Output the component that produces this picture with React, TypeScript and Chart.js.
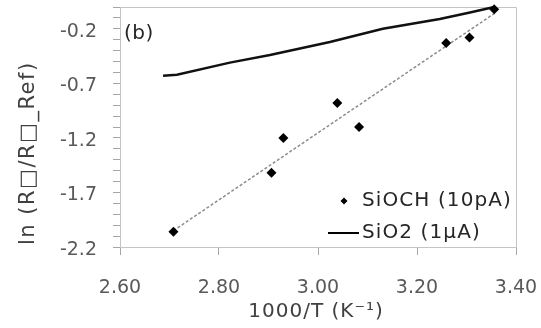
import React, { useEffect, useRef } from 'react';
import { Chart, registerables } from 'chart.js';

Chart.register(...registerables);

// SiOCH (10pA) measured points
const siochX = [2.708, 2.906, 2.930, 3.039, 3.083, 3.259, 3.306, 3.356];
const siochY = [-2.06, -1.52, -1.20, -0.88, -1.10, -0.33, -0.28, -0.02];
// SiOCH linear trendline (endpoints)
const trendX = [2.708, 3.356];
const trendY = [-2.05, -0.06];
// SiO2 (1uA) line
const sio2X = [2.687, 2.715, 2.822, 2.903, 3.024, 3.131, 3.246, 3.307, 3.356];
const sio2Y = [-0.63, -0.62, -0.51, -0.44, -0.32, -0.20, -0.11, -0.05, 0.0];

const xTickLabels = ['2.60', '2.80', '3.00', '3.20', '3.40'];
const yTickLabels = ['-2.2', '-1.7', '-1.2', '-0.7', '-0.2'];
const seriesLabels = ['SiOCH (10pA)', 'SiO2 (1\u03bcA)'];
const panelLabel = '(b)';
const xTitle = '1000/T (K\u207b\u00b9)';
const yTitle = 'ln (R\u25a1/R\u25a1_Ref)';

const FONT = "'DejaVu Sans', sans-serif";

export default function App() {
  const ref = useRef<HTMLCanvasElement>(null);

  useEffect(() => {
    document.body.style.margin = '0';
    const toPts = (xs: number[], ys: number[]) => xs.map((x, i) => ({ x, y: ys[i] }));

    const framePlugin = {
      id: 'frame',
      beforeDatasetsDraw(chart: any) {
        const { ctx, chartArea: a } = chart;
        ctx.save();
        ctx.strokeStyle = '#c4c4c4';
        ctx.lineWidth = 1;
        ctx.beginPath();
        ctx.moveTo(a.left, Math.round(a.top) + 0.5);
        ctx.lineTo(Math.round(a.right) + 0.5, Math.round(a.top) + 0.5);
        ctx.lineTo(Math.round(a.right) + 0.5, a.bottom);
        ctx.stroke();
        ctx.restore();
      },
      afterDraw(chart: any) {
        const { ctx, chartArea: a } = chart;
        ctx.save();
        ctx.fillStyle = '#262626';
        ctx.textBaseline = 'middle';
        ctx.textAlign = 'left';
        ctx.font = `20px ${FONT}`;
        ctx.letterSpacing = '0.5px';
        ctx.fillText(panelLabel, a.left + 4, a.top + 27);

        // legend
        const tx = a.right - 154;
        const y1 = a.bottom - 46;
        const y2 = a.bottom - 14;
        ctx.fillStyle = '#000';
        ctx.beginPath();
        const mx = tx - 18;
        ctx.moveTo(mx - 3.5, y1);
        ctx.lineTo(mx, y1 - 3.5);
        ctx.lineTo(mx + 3.5, y1);
        ctx.lineTo(mx, y1 + 3.5);
        ctx.closePath();
        ctx.fill();
        ctx.strokeStyle = '#000';
        ctx.lineWidth = 2;
        ctx.beginPath();
        ctx.moveTo(tx - 34, y2);
        ctx.lineTo(tx - 3, y2);
        ctx.stroke();
        ctx.fillStyle = '#262626';
        ctx.letterSpacing = '1.1px';
        ctx.fillText(seriesLabels[0], tx, y1);
        ctx.fillText(seriesLabels[1], tx, y2);

        // axis titles
        ctx.fillStyle = '#404040';
        ctx.font = `20px ${FONT}`;
        ctx.letterSpacing = '1px';
        ctx.textAlign = 'center';
        ctx.fillText(xTitle, (a.left + a.right) / 2 - 2, 312);

        ctx.translate(29, a.bottom - 2);
        ctx.rotate(-Math.PI / 2);
        ctx.textAlign = 'left';
        ctx.font = `21px ${FONT}`;
        ctx.letterSpacing = '1.5px';
        ctx.fillText(yTitle, 0, 0);
        ctx.restore();
      },
    };

    const chart = new Chart(ref.current as HTMLCanvasElement, {
      type: 'scatter',
      data: {
        datasets: [
          {
            label: seriesLabels[0],
            data: toPts(siochX, siochY),
            showLine: false,
            pointStyle: 'rectRot',
            pointRadius: 5,
            backgroundColor: '#000',
            borderColor: '#000',
            borderWidth: 0,
            clip: false,
          } as any,
          {
            label: 'trend',
            data: toPts(trendX, trendY),
            showLine: true,
            pointRadius: 0,
            borderColor: '#8c8c8c',
            borderWidth: 1.5,
            borderDash: [3, 2],
            clip: false,
          } as any,
          {
            label: seriesLabels[1],
            data: toPts(sio2X, sio2Y),
            showLine: true,
            pointRadius: 0,
            borderColor: '#111',
            borderWidth: 2.5,
            clip: false,
          } as any,
        ],
      },
      options: {
        animation: false,
        responsive: false,
        events: [],
        layout: { padding: { top: 7, right: 25, left: 0, bottom: 0 } },
        plugins: { legend: { display: false }, tooltip: { enabled: false } },
        scales: {
          x: {
            type: 'linear',
            min: 2.6,
            max: 3.4,
            afterFit: (s: any) => {
              s.height = 81;
              s.paddingLeft = 0;
              s.paddingRight = 0;
            },
            ticks: {
              stepSize: 0.2,
              autoSkip: false,
              maxRotation: 0,
              padding: 22,
              color: '#595959',
              font: { family: FONT, size: 19 },
              callback: (v: any) => {
                const t = Number(v).toFixed(2);
                return xTickLabels.includes(t) ? t : '';
              },
            },
            grid: { drawOnChartArea: false, drawTicks: true, tickLength: 8, tickColor: '#a6a6a6' },
            border: { display: true, color: '#c4c4c4', width: 1 },
            title: { display: false },
          },
          y: {
            type: 'linear',
            min: -2.2,
            max: 0,
            afterFit: (s: any) => {
              s.width = 120;
              s.paddingTop = 0;
              s.paddingBottom = 0;
            },
            ticks: {
              stepSize: 0.1,
              autoSkip: false,
              padding: 16,
              labelOffset: 3,
              color: '#595959',
              font: { family: FONT, size: 19 },
              callback: (v: any) => {
                const t = (Math.round(Number(v) * 10) / 10).toFixed(1);
                return yTickLabels.includes(t) ? t : '';
              },
            },
            grid: { drawOnChartArea: false, drawTicks: true, tickLength: 7, tickColor: '#a6a6a6' },
            border: { display: true, color: '#c4c4c4', width: 1 },
            title: { display: false },
          },
        },
      },
      plugins: [framePlugin],
    });
    return () => chart.destroy();
  }, []);

  return (
    <div style={{ width: 541, height: 328 }}>
      <canvas ref={ref} width={541} height={328} style={{ display: 'block' }} />
    </div>
  );
}
